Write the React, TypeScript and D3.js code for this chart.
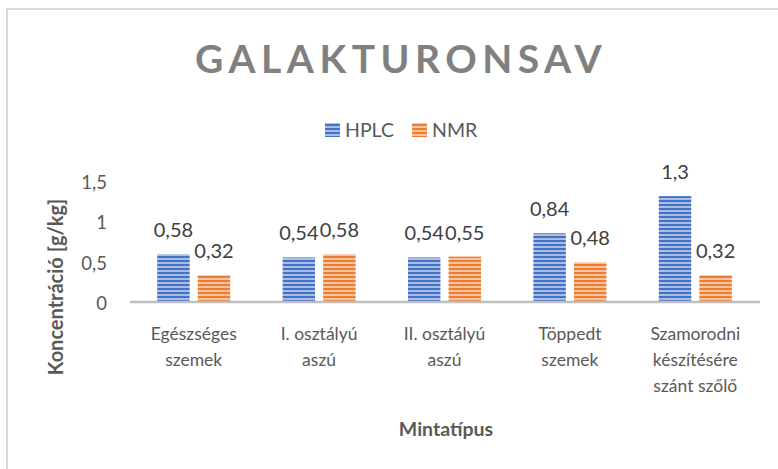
import React, { useEffect, useRef } from 'react';
import * as d3 from 'd3';

const categories = [
  ['Egészséges', 'szemek'],
  ['I. osztályú', 'aszú'],
  ['II. osztályú', 'aszú'],
  ['Töppedt', 'szemek'],
  ['Szamorodni', 'készítésére', 'szánt szőlő'],
];
const hplc = [0.58, 0.54, 0.54, 0.84, 1.3];
const nmr = [0.32, 0.58, 0.55, 0.48, 0.32];
const seriesNames = ['HPLC', 'NMR'];
const yTicks = [0, 0.5, 1, 1.5];

const fmt = (v: number) => String(v).replace('.', ',');

export default function App() {
  const svgRef = useRef<SVGSVGElement>(null);

  useEffect(() => {
    document.body.style.margin = '0';
    if (!svgRef.current) return;
    const width = 778;
    const height = 469;
    const font = 'Lato, "Open Sans", sans-serif';

    const svg = d3.select(svgRef.current)
      .attr('width', width)
      .attr('height', height)
      .style('font-family', font)
      .style('display', 'block');
    svg.selectAll('*').remove();

    const defs = svg.append('defs');
    const pats = [
      { id: 'pHplc', dark: '#4472C4', light: '#A9BEE6' },
      { id: 'pNmr', dark: '#ED7D31', light: '#F7C4A0' },
    ];
    pats.forEach(p => {
      const pat = defs.append('pattern')
        .attr('id', p.id)
        .attr('patternUnits', 'userSpaceOnUse')
        .attr('width', 8)
        .attr('height', 4);
      pat.append('rect').attr('width', 8).attr('height', 4).attr('fill', p.light);
      pat.append('rect').attr('width', 8).attr('height', 2).attr('fill', p.dark);
    });

    svg.append('rect').attr('width', width).attr('height', height).attr('fill', '#fff');
    // chart frame (right/bottom edges fall outside the picture)
    svg.append('rect')
      .attr('x', 7).attr('y', 9)
      .attr('width', width + 20).attr('height', height + 20)
      .attr('fill', 'none').attr('stroke', '#d9d9d9').attr('stroke-width', 2);

    const plot = { left: 131, right: 758, top: 180, bottom: 301 };
    const x0 = d3.scaleBand<number>()
      .domain(d3.range(categories.length))
      .range([plot.left, plot.right]);
    const bw = x0.bandwidth();
    const x1 = d3.scaleBand<number>()
      .domain([0, 1])
      .range([bw / 2 - 36.5, bw / 2 + 36.5])
      .paddingInner(0.2);
    const y = d3.scaleLinear().domain([0, 1.5]).range([plot.bottom, plot.top]);

    // title
    svg.append('text')
      .attr('x', 401).attr('y', 73)
      .attr('text-anchor', 'middle')
      .attr('fill', '#808080')
      .style('font-size', '39px')
      .style('font-weight', 'bold')
      .style('letter-spacing', '5.5px')
      .text('GALAKTURONSAV');

    // legend
    const legend = svg.append('g');
    const legendItems = [
      { x: 325, fill: 'url(#pHplc)', name: seriesNames[0] },
      { x: 412, fill: 'url(#pNmr)', name: seriesNames[1] },
    ];
    legendItems.forEach(it => {
      legend.append('rect')
        .attr('x', it.x).attr('y', 123).attr('width', 15).attr('height', 14)
        .attr('fill', it.fill);
      legend.append('text')
        .attr('x', it.x + 20).attr('y', 137)
        .attr('fill', '#595959')
        .style('font-size', '19.5px')
        .text(it.name);
    });

    // y axis tick labels
    svg.append('g').selectAll('text')
      .data(yTicks)
      .join('text')
      .attr('x', 107)
      .attr('y', d => y(d) + 9)
      .attr('text-anchor', 'end')
      .attr('fill', '#595959')
      .style('font-size', '18.5px')
      .text(d => fmt(d));

    // bars
    const groups = svg.append('g').selectAll('g')
      .data(categories.map((_, i) => i))
      .join('g')
      .attr('transform', i => `translate(${x0(i)},0)`);

    [hplc, nmr].forEach((vals, s) => {
      groups.append('rect')
        .attr('x', x1(s)!)
        .attr('y', i => y(vals[i]))
        .attr('width', x1.bandwidth())
        .attr('height', i => y(0) - y(vals[i]))
        .attr('fill', s === 0 ? 'url(#pHplc)' : 'url(#pNmr)');
      groups.append('text')
        .attr('x', x1(s)! + x1.bandwidth() / 2)
        .attr('y', i => y(vals[i]) - 17)
        .attr('text-anchor', 'middle')
        .attr('fill', '#404040')
        .style('font-size', '20px')
        .text(i => fmt(vals[i]));
    });

    // x axis line
    svg.append('line')
      .attr('x1', plot.left - 1).attr('x2', plot.right + 2)
      .attr('y1', plot.bottom + 1).attr('y2', plot.bottom + 1)
      .attr('stroke', '#bfbfbf').attr('stroke-width', 2.5);

    // category labels
    const cat = svg.append('g').selectAll('text')
      .data(categories)
      .join('text')
      .attr('x', (_, i) => x0(i)! + bw / 2)
      .attr('y', 340)
      .attr('text-anchor', 'middle')
      .attr('fill', '#595959')
      .style('font-size', '17.5px');
    cat.selectAll('tspan')
      .data(d => d)
      .join('tspan')
      .attr('x', function () { return (this.parentNode as SVGTextElement).getAttribute('x'); })
      .attr('dy', (_, j) => (j === 0 ? 0 : 26))
      .text(d => d);

    // axis titles
    svg.append('text')
      .attr('transform', 'translate(63,287) rotate(-90)')
      .attr('text-anchor', 'middle')
      .attr('fill', '#595959')
      .style('font-size', '20px')
      .style('font-weight', 'bold')
      .text('Koncentráció [g/kg]');
    svg.append('text')
      .attr('x', 446).attr('y', 436)
      .attr('text-anchor', 'middle')
      .attr('fill', '#595959')
      .style('font-size', '19.5px')
      .style('font-weight', 'bold')
      .text('Mintatípus');
  }, []);

  return <svg ref={svgRef}></svg>;
}
